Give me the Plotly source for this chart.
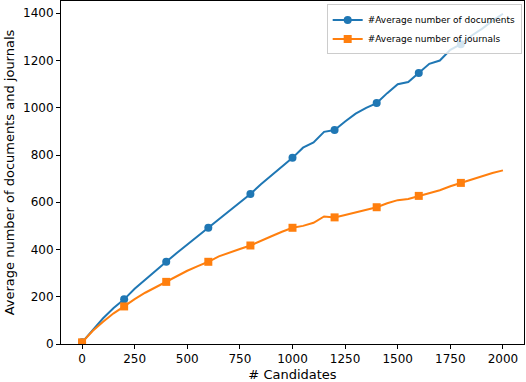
"""Average number of documents and journals vs number of candidates."""
import plotly.graph_objects as go

# candidates sampled every 50
candidates = list(range(0, 2001, 50))

avg_documents = [
    7, 58, 109, 152, 189, 234, 273, 312, 348, 385, 421,
    458, 492, 530, 566, 600, 635, 676, 714, 752, 788,
    831, 853, 898, 906, 942, 975, 1000, 1020, 1062, 1100,
    1109, 1147, 1186, 1200, 1245, 1269, 1305, 1334, 1368, 1398,
]

avg_journals = [
    7, 55, 94, 130, 159, 190, 217, 241, 263, 288, 310,
    330, 348, 371, 388, 402, 417, 438, 456, 475, 492,
    500, 513, 540, 536, 546, 557, 566, 579, 596, 609,
    614, 627, 638, 651, 668, 682, 697, 711, 724, 735,
]

x_ticks = [0, 250, 500, 750, 1000, 1250, 1500, 1750, 2000]
y_ticks = [0, 200, 400, 600, 800, 1000, 1200, 1400]

BLUE = '#1f77b4'
ORANGE = '#ff7f0e'
FONT = 'DejaVu Sans'

# markers every 200 candidates (the last point has none)
mark_idx = [i for i, c in enumerate(candidates) if c % 200 == 0 and c < 2000]

fig = go.Figure()

series = [
    ('#Average number of documents', avg_documents, BLUE, 'circle'),
    ('#Average number of journals', avg_journals, ORANGE, 'square'),
]

for name, values, color, symbol in series:
    # full line
    fig.add_trace(go.Scatter(
        x=candidates,
        y=values,
        mode='lines',
        line=dict(color=color, width=2),
        showlegend=False,
        hoverinfo='skip'
    ))
    # markers every 200
    fig.add_trace(go.Scatter(
        x=[candidates[i] for i in mark_idx],
        y=[values[i] for i in mark_idx],
        mode='markers',
        marker=dict(color=color, size=8, symbol=symbol),
        showlegend=False,
        name=name
    ))
    # legend entry
    fig.add_trace(go.Scatter(
        x=[None],
        y=[None],
        mode='lines+markers',
        line=dict(color=color, width=2),
        marker=dict(color=color, size=8, symbol=symbol),
        name=name
    ))

axis_common = dict(
    showgrid=False,
    zeroline=False,
    showline=True,
    linecolor='black',
    linewidth=1,
    mirror=True,
    ticks='outside',
    ticklen=4,
    tickcolor='black',
    tickfont=dict(family=FONT, size=12, color='black'),
)

fig.update_layout(
    width=526,
    height=382,
    margin=dict(l=61, r=2, t=1, b=38),
    paper_bgcolor='white',
    plot_bgcolor='white',
    font=dict(family=FONT, color='black'),
    xaxis=dict(
        range=[-100, 2100],
        tickvals=x_ticks,
        title=dict(text='# Candidates', font=dict(family=FONT, size=13), standoff=5),
        **axis_common
    ),
    yaxis=dict(
        range=[0, 1452],
        tickvals=y_ticks,
        title=dict(text='Average number of documents and journals',
                   font=dict(family=FONT, size=13), standoff=5),
        **axis_common
    ),
    legend=dict(
        x=0.995,
        y=0.99,
        xanchor='right',
        yanchor='top',
        bgcolor='rgba(255,255,255,0.8)',
        bordercolor='#cccccc',
        borderwidth=1,
        font=dict(family=FONT, size=9),
        tracegroupgap=0,
        itemwidth=30,
    ),
    showlegend=True,
)

# drop the page's default body margin so the figure sits at the window origin
fig.write_html(
    "out.html",
    config={'displayModeBar': False},
    post_script="document.body.style.margin='0';",
)
